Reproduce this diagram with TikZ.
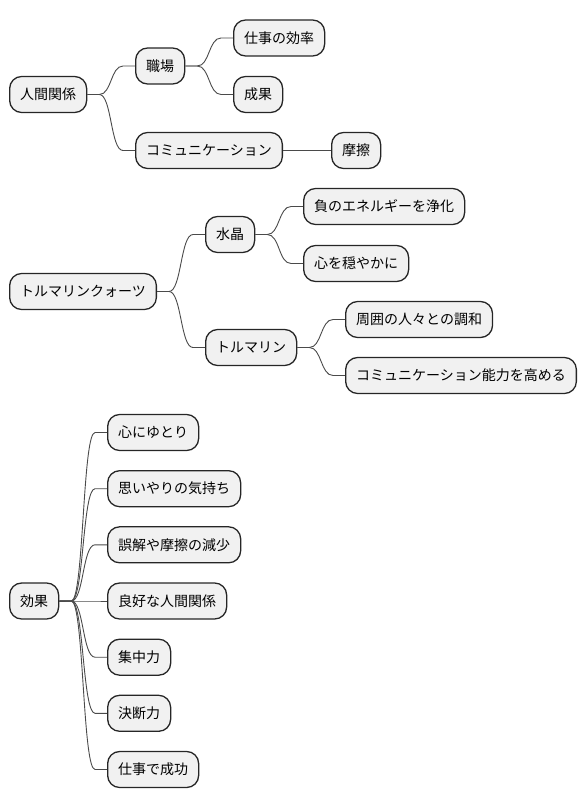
\documentclass[tikz,border=0pt]{standalone}
\usepackage{fontspec}
\newfontfamily\jp{Noto Sans CJK JP}
\usetikzlibrary{calc}
\definecolor{mmfill}{HTML}{F1F1F1}
\definecolor{mmline}{HTML}{262626}
\definecolor{mmlink}{HTML}{4A4A4A}
\tikzset{
  mm/.style={draw=mmline, line width=1.3pt, fill=mmfill, rounded corners=12pt,
    anchor=west, minimum height=36pt, inner xsep=10.5pt, inner ysep=0pt,
    text height=11.5pt, text depth=1pt, font=\jp\fontsize{14}{16}\selectfont},
  link/.style={draw=mmlink, line width=0.9pt}
}
\newcommand\mlink[2]{\draw[link] (#1.east) -- ++(12,0) .. controls ($(#1.east)+(24.5,0)$) and ($(#2.west)+(-24.5,0)$) .. ($(#2.west)+(-12,0)$) -- (#2.west);}
\begin{document}
\begin{tikzpicture}[x=1pt,y=-1pt]
\useasboundingbox (0,0) rectangle (587,810);
% group 1
\node[mm] (a) at (9,94.5) {人間関係};
\node[mm] (a1) at (135,66) {職場};
\node[mm] (a11) at (233,38) {仕事の効率};
\node[mm] (a12) at (233,94.5) {成果};
\node[mm] (a2) at (135,150.5) {コミュニケーション};
\node[mm] (a21) at (331,150.5) {摩擦};
% group 2
\node[mm] (b) at (9,291.5) {トルマリンクォーツ};
\node[mm] (b1) at (205,234.5) {水晶};
\node[mm] (b11) at (303,206.5) {負のエネルギーを浄化};
\node[mm] (b12) at (303,263.5) {心を穏やかに};
\node[mm] (b2) at (205,347.5) {トルマリン};
\node[mm] (b21) at (345,319.5) {周囲の人々との調和};
\node[mm] (b22) at (345,375.5) {コミュニケーション能力を高める};
% group 3
\node[mm] (c) at (9,601) {効果};
\node[mm] (c1) at (107,432.5) {心にゆとり};
\node[mm] (c2) at (107,488.7) {思いやりの気持ち};
\node[mm] (c3) at (107,544.8) {誤解や摩擦の減少};
\node[mm] (c4) at (107,601) {良好な人間関係};
\node[mm] (c5) at (107,657.2) {集中力};
\node[mm] (c6) at (107,713.3) {決断力};
\node[mm] (c7) at (107,769.5) {仕事で成功};
% links
\begin{scope}[on background layer/.style={}]
\mlink{a}{a1}\mlink{a}{a2}
\mlink{a1}{a11}\mlink{a1}{a12}
\mlink{a2}{a21}
\mlink{b}{b1}\mlink{b}{b2}
\mlink{b1}{b11}\mlink{b1}{b12}
\mlink{b2}{b21}\mlink{b2}{b22}
\mlink{c}{c1}\mlink{c}{c2}\mlink{c}{c3}\mlink{c}{c4}\mlink{c}{c5}\mlink{c}{c6}\mlink{c}{c7}
\end{scope}
\end{tikzpicture}
\end{document}
